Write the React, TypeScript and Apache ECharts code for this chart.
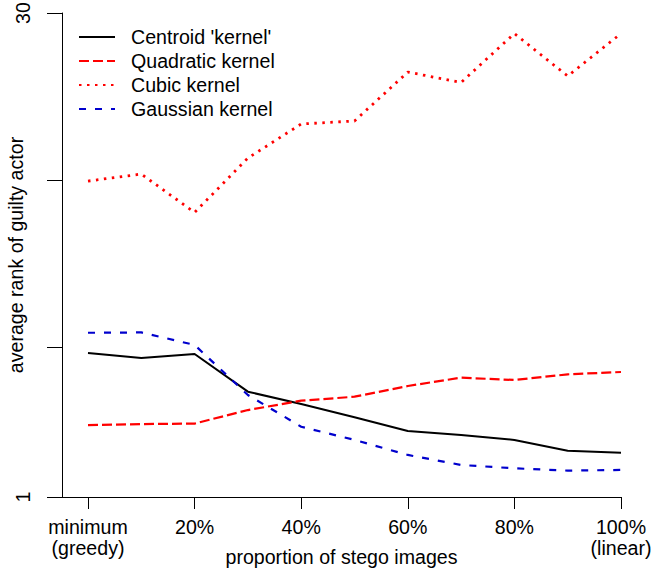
import React, { useEffect, useRef } from "react";
import * as echarts from "echarts";

const xValues = [0, 10, 20, 30, 40, 50, 60, 70, 80, 90, 100];
const xTickValues = [0, 20, 40, 60, 80, 100];
const xTickLabels = ["minimum\n(greedy)", "20%", "40%", "60%", "80%", "100%\n(linear)"];
const yTickValues = [1, 10, 20, 30];
const yLabelValues = [1, 30];

const seriesNames = ["Centroid 'kernel'", "Quadratic kernel", "Cubic kernel", "Gaussian kernel"];
const centroid = [9.63, 9.33, 9.57, 7.31, 6.57, 5.78, 4.95, 4.71, 4.42, 3.77, 3.65];
const quadratic = [5.31, 5.37, 5.4, 6.21, 6.77, 7.01, 7.65, 8.15, 8.01, 8.35, 8.49];
const cubic = [19.93, 20.35, 18.05, 21.31, 23.35, 23.53, 26.46, 25.84, 28.77, 26.22, 28.77];
const gaussian = [10.84, 10.86, 10.11, 7.11, 5.21, 4.42, 3.52, 2.92, 2.72, 2.58, 2.62];

const FONT = "'Liberation Sans', Arial, Helvetica, sans-serif";
const FS = 19.6;

export default function App() {
  const ref = useRef<HTMLDivElement>(null);
  useEffect(() => {
    if (!ref.current) return;
    const chart = echarts.init(ref.current, undefined, { renderer: "svg" });
    const pair = (arr: number[]) => arr.map((v, i) => [xValues[i], v]);
    const mk = (name: string, data: number[], color: string, type: any, width: number) => ({
      name,
      type: "line",
      data: pair(data),
      symbol: "none",
      showSymbol: false,
      lineStyle: { color, type, width, cap: "butt" },
      itemStyle: { color },
      z: 2,
    });
    chart.setOption({
      animation: false,
      backgroundColor: "#ffffff",
      textStyle: { fontFamily: FONT, color: "#000" },
      grid: { left: 62, right: 31, top: 13, bottom: 73, containLabel: false, outerBoundsMode: "none" },
      legend: {
        orient: "vertical",
        left: 73,
        top: 22,
        itemWidth: 36,
        itemHeight: 12,
        itemGap: 4,
        data: seriesNames,
        itemStyle: { opacity: 0, borderWidth: 0 },
        textStyle: { fontFamily: FONT, fontSize: FS, color: "#000", lineHeight: 19, padding: [0, 0, 0, 11] },
      },
      xAxis: {
        type: "value",
        min: -4.878,
        max: 100,
        splitLine: { show: false },
        axisLine: { show: true, onZero: false, lineStyle: { color: "#000", width: 1 } },
        axisTick: { show: true, customValues: xTickValues, length: 12, lineStyle: { color: "#000", width: 1 } },
        axisLabel: {
          customValues: xTickValues,
          formatter: (v: number) => xTickLabels[xTickValues.indexOf(v)] ?? "",
          fontFamily: FONT,
          fontSize: FS,
          lineHeight: 21,
          color: "#000",
          margin: 19,
        },
        name: "proportion of stego images",
        nameLocation: "middle",
        nameGap: 50,
        nameMoveOverlap: false,
        nameTextStyle: { fontFamily: FONT, fontSize: FS, color: "#000" },
      },
      yAxis: {
        type: "value",
        min: 1,
        max: 30,
        splitLine: { show: false },
        axisLine: { show: true, onZero: false, lineStyle: { color: "#000", width: 1 } },
        axisTick: { show: true, customValues: yTickValues, length: 15, lineStyle: { color: "#000", width: 1 } },
        axisLabel: {
          customValues: yLabelValues,
          rotate: 90,
          fontFamily: FONT,
          fontSize: FS,
          color: "#000",
          margin: 29,
        },
        name: "average rank of guilty actor",
        nameLocation: "middle",
        nameGap: 36,
        nameMoveOverlap: false,
        nameTextStyle: { fontFamily: FONT, fontSize: FS, color: "#000" },
      },
      series: [
        mk(seriesNames[0], centroid, "#000000", "solid", 2),
        mk(seriesNames[1], quadratic, "#ff0000", [10, 4], 2.2),
        mk(seriesNames[2], cubic, "#ff0000", [2.5, 5.5], 2.8),
        mk(seriesNames[3], gaussian, "#0000cd", [7, 9], 2.2),
      ],
    });
    return () => chart.dispose();
  }, []);
  return <div ref={ref} style={{ position: "fixed", left: 0, top: 0, width: 652, height: 570 }} />;
}
